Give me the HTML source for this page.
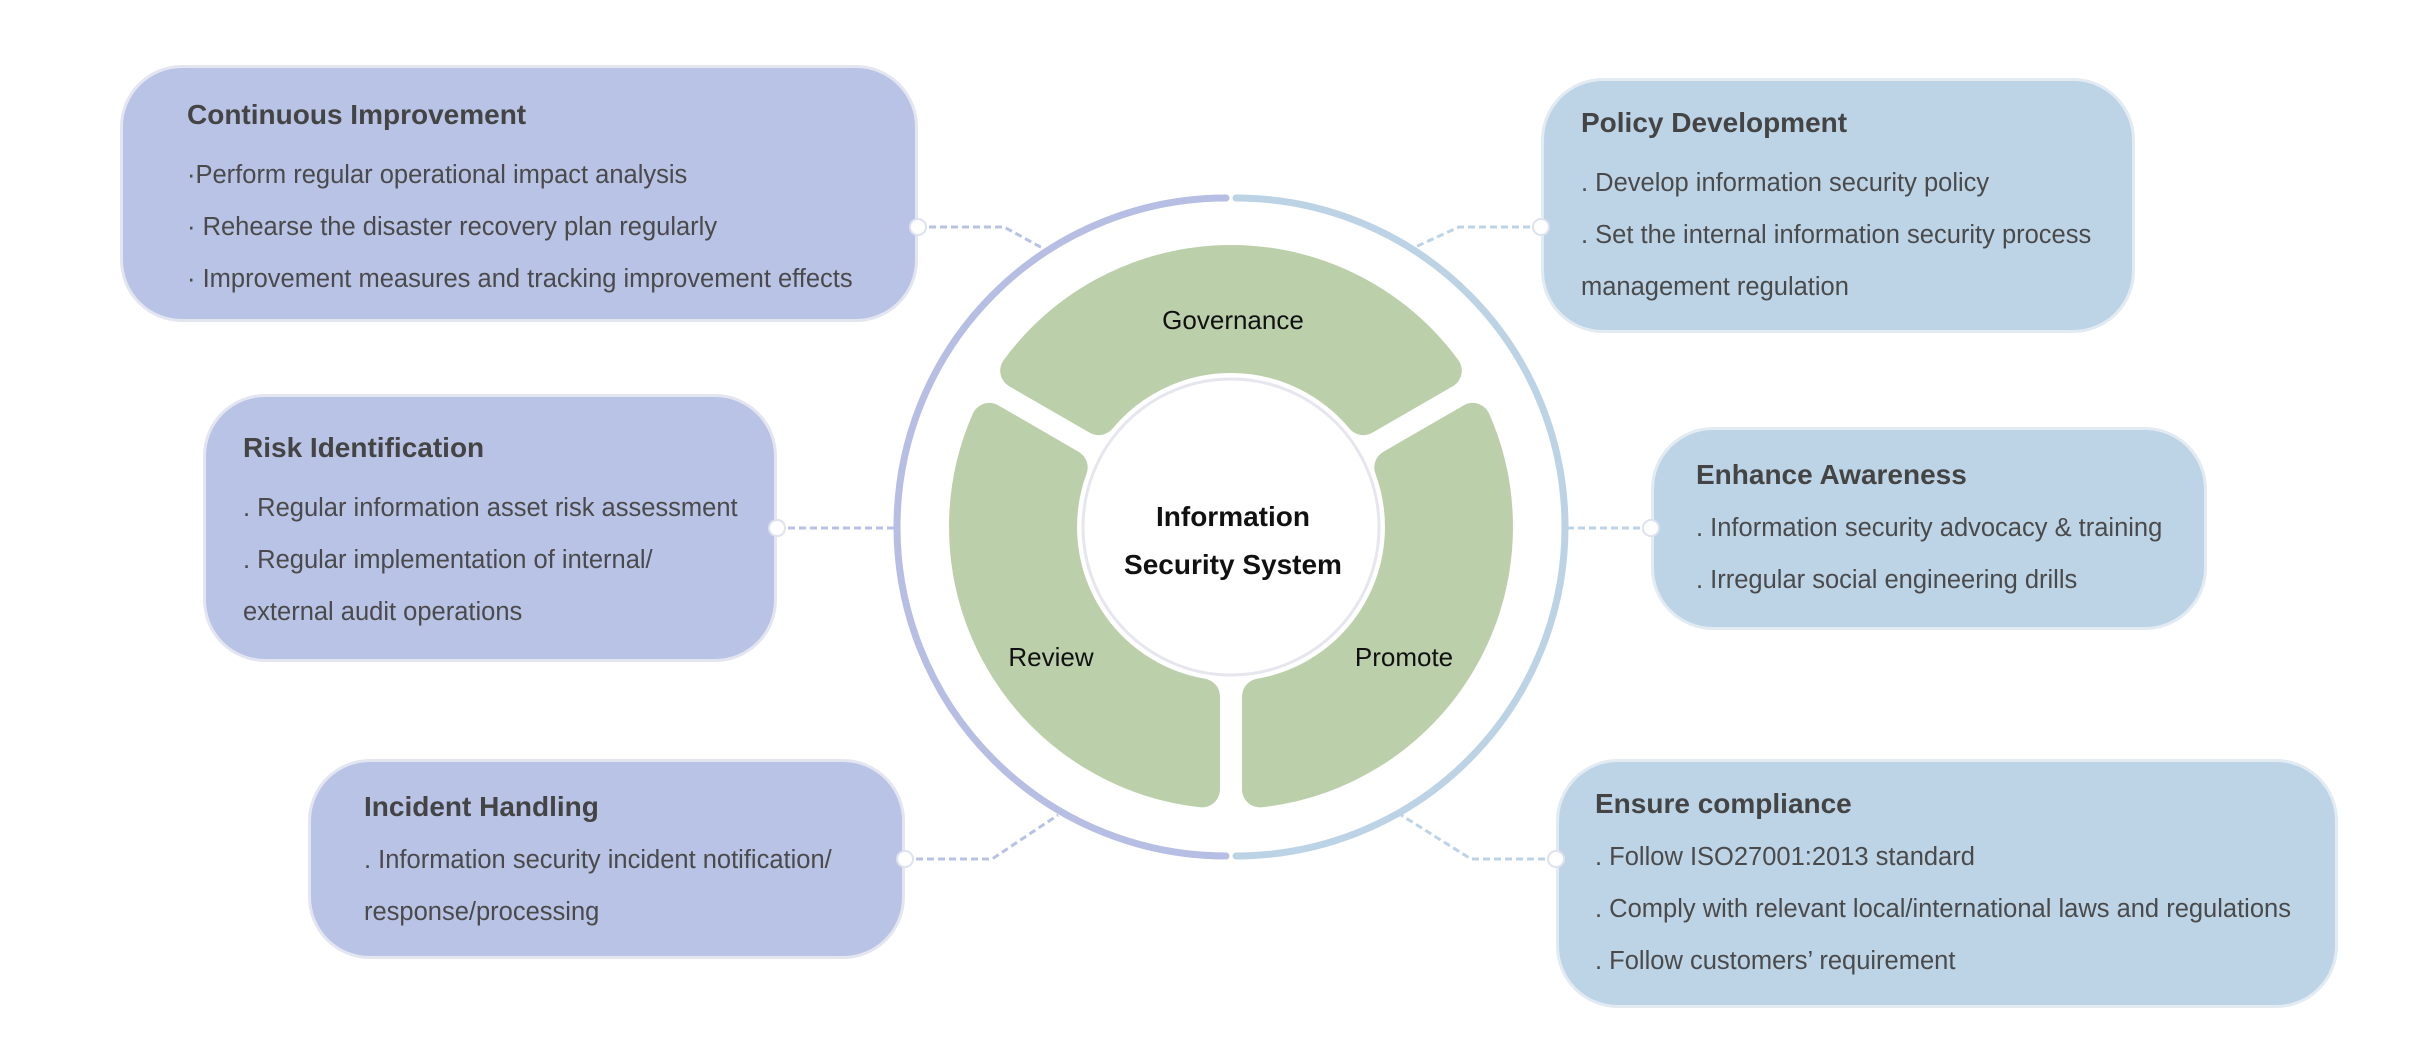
<!DOCTYPE html>
<html><head><meta charset="utf-8"><style>
html,body{margin:0;padding:0;background:#fff;}
body{width:2430px;height:1046px;position:relative;overflow:hidden;font-family:"Liberation Sans",sans-serif;}
.box{position:absolute;border-radius:62px;box-sizing:border-box;border:3px solid #e3e6f1;}
.p{background:#b9c3e5;}
.b{background:#bdd4e7;border-color:#e2eaf2;}
.t{position:absolute;white-space:nowrap;color:#4a4a4a;font-size:25.5px;line-height:30px;}
.h{font-weight:bold;font-size:28px;color:#444;}
svg{position:absolute;left:0;top:0;}
</style></head><body>
<div class="box p" style="left:120px;top:65px;width:798px;height:257px"></div>
<div class="box p" style="left:203px;top:394px;width:574px;height:268px"></div>
<div class="box p" style="left:308px;top:759px;width:597px;height:200px"></div>
<div class="box b" style="left:1541px;top:78px;width:594px;height:255px"></div>
<div class="box b" style="left:1651px;top:427px;width:556px;height:203px"></div>
<div class="box b" style="left:1556px;top:759px;width:782px;height:249px"></div>

<svg width="2430" height="1046">
<g fill="none" stroke-width="3" stroke-dasharray="7 4">
<polyline points="918,227 1004,227 1046,250" stroke="#b8c2e4"/>
<polyline points="777,528 899,528" stroke="#b8c2e4"/>
<polyline points="905,859 992,859 1058,815" stroke="#b8c2e4"/>
<polyline points="1541,227 1459,227 1413,248" stroke="#bcd3e8"/>
<polyline points="1651,528 1564,528" stroke="#bcd3e8"/>
<polyline points="1556,859 1471,859 1401,815" stroke="#bcd3e8"/>
</g>
<path d="M 1226 198 A 329 329 0 0 0 1226 856" fill="none" stroke="#b6bee4" stroke-width="7" stroke-linecap="round"/>
<path d="M 1236 198 A 329 329 0 0 1 1236 856" fill="none" stroke="#bcd3e6" stroke-width="7" stroke-linecap="round"/>
<g fill="#bbd0aa" stroke="#bbd0aa" stroke-width="36" stroke-linejoin="round">
<path d="M 1018.2 370.7 A 264 264 0 0 1 1443.8 370.7 L 1363.3 417.1 A 172 172 0 0 0 1098.7 417.1 Z" transform="translate(0,0)"/>
<path d="M 1472.7 420.9 A 264 264 0 0 1 1260 789.4 L 1260 696.5 A 172 172 0 0 0 1392.3 467.4 Z"/>
<path d="M 989.3 420.9 A 264 264 0 0 0 1202 789.4 L 1202 696.5 A 172 172 0 0 1 1069.7 467.4 Z"/>
</g>
<circle cx="1231" cy="527" r="148" fill="#fff" stroke="#e6e6ee" stroke-width="3"/>
<g fill="#fff" stroke="#dde2ee" stroke-width="2">
<circle cx="918" cy="227" r="8"/><circle cx="777" cy="528" r="8"/><circle cx="905" cy="859" r="8"/>
<circle cx="1541" cy="227" r="8"/><circle cx="1651" cy="528" r="8"/><circle cx="1556" cy="859" r="8"/>
</g>
<g font-family="Liberation Sans, sans-serif" font-size="26" fill="#111" text-anchor="middle">
<text x="1233" y="329">Governance</text>
<text x="1051" y="666">Review</text>
<text x="1404" y="666">Promote</text>
<text x="1233" y="526" font-size="28" font-weight="bold">Information</text>
<text x="1233" y="574" font-size="28" font-weight="bold">Security System</text>
</g>
</svg>

<div class="t h" style="left:187px;top:100px">Continuous Improvement</div>
<div class="t" style="left:187px;top:160px">·Perform regular operational impact analysis</div>
<div class="t" style="left:187px;top:212px">· Rehearse the disaster recovery plan regularly</div>
<div class="t" style="left:187px;top:264px">· Improvement measures and tracking improvement effects</div>

<div class="t h" style="left:243px;top:433px">Risk Identification</div>
<div class="t" style="left:243px;top:493px">. Regular information asset risk assessment</div>
<div class="t" style="left:243px;top:545px">. Regular implementation of internal/</div>
<div class="t" style="left:243px;top:597px">external audit operations</div>

<div class="t h" style="left:364px;top:792px">Incident Handling</div>
<div class="t" style="left:364px;top:845px">. Information security incident notification/</div>
<div class="t" style="left:364px;top:897px">response/processing</div>

<div class="t h" style="left:1581px;top:108px">Policy Development</div>
<div class="t" style="left:1581px;top:168px">. Develop information security policy</div>
<div class="t" style="left:1581px;top:220px">. Set the internal information security process</div>
<div class="t" style="left:1581px;top:272px">management regulation</div>

<div class="t h" style="left:1696px;top:460px">Enhance Awareness</div>
<div class="t" style="left:1696px;top:513px">. Information security advocacy &amp; training</div>
<div class="t" style="left:1696px;top:565px">. Irregular social engineering drills</div>

<div class="t h" style="left:1595px;top:789px">Ensure compliance</div>
<div class="t" style="left:1595px;top:842px">. Follow ISO27001:2013 standard</div>
<div class="t" style="left:1595px;top:894px">. Comply with relevant local/international laws and regulations</div>
<div class="t" style="left:1595px;top:946px">. Follow customers’ requirement</div>
</body></html>
